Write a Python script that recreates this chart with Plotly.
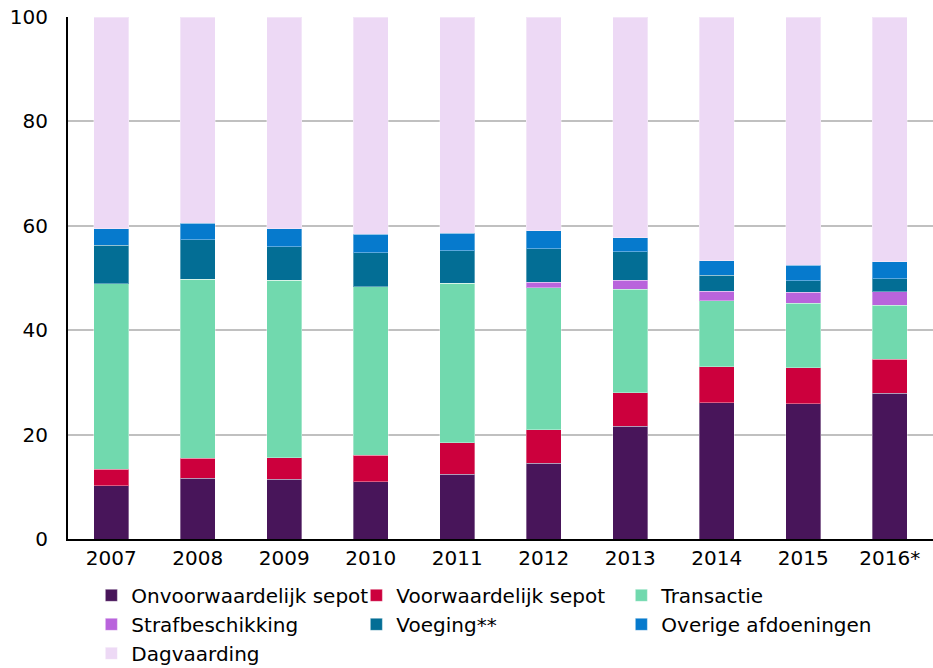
import plotly.graph_objects as go

years = ["2007", "2008", "2009", "2010", "2011", "2012", "2013", "2014", "2015", "2016*"]

onvoorwaardelijk_sepot = [10.2, 11.6, 11.4, 11.0, 12.4, 14.5, 21.6, 26.1, 25.9, 27.9]
voorwaardelijk_sepot   = [3.2, 3.9, 4.2, 5.0, 6.0, 6.4, 6.4, 6.9, 6.9, 6.5]
transactie             = [35.5, 34.3, 34.0, 32.3, 30.6, 27.2, 19.8, 12.6, 12.4, 10.4]
strafbeschikking       = [0.0, 0.0, 0.0, 0.0, 0.0, 1.1, 1.8, 1.9, 2.1, 2.6]
voeging                = [7.4, 7.5, 6.4, 6.5, 6.2, 6.4, 5.4, 3.0, 2.2, 2.5]
overige_afdoeningen    = [3.1, 3.2, 3.4, 3.6, 3.4, 3.5, 2.7, 2.8, 2.9, 3.2]
dagvaarding            = [40.6, 39.5, 40.6, 41.6, 41.4, 40.9, 42.3, 46.7, 47.6, 46.9]

series_names = ["Onvoorwaardelijk sepot", "Voorwaardelijk sepot", "Transactie",
                "Strafbeschikking", "Voeging**", "Overige afdoeningen", "Dagvaarding"]
series_values = [onvoorwaardelijk_sepot, voorwaardelijk_sepot, transactie,
                 strafbeschikking, voeging, overige_afdoeningen, dagvaarding]
colors = ["#48155a", "#cc003d", "#71d9ae", "#b964dc", "#036e95", "#067acd", "#edd9f5"]

fig = go.Figure()
for name, vals, col in zip(series_names, series_values, colors):
    fig.add_trace(go.Bar(
        x=years, y=vals, name=name,
        marker=dict(color=col, line=dict(color="rgba(255,255,255,0.35)", width=1)),
    ))

font_family = "DejaVu Sans, Verdana, sans-serif"
fig.update_layout(
    barmode="stack",
    bargap=0.6,
    width=933, height=668,
    margin=dict(l=68, r=0, t=17, b=129),
    paper_bgcolor="white",
    plot_bgcolor="white",
    font=dict(family=font_family, size=20, color="#000000"),
    showlegend=True,
    legend=dict(
        orientation="h",
        xref="paper", yref="container",
        x=0.027, y=0.138,
        xanchor="left", yanchor="top",
        entrywidth=220, entrywidthmode="pixels",
        font=dict(family=font_family, size=20, color="#000000"),
        traceorder="normal",
    ),
)
fig.update_xaxes(
    showline=True, linecolor="#000000", linewidth=2,
    ticks="", showgrid=False, automargin=False,
    tickfont=dict(size=20),
)
fig.update_yaxes(
    range=[0, 100], tickvals=[0, 20, 40, 60, 80, 100],
    showline=True, linecolor="#000000", linewidth=2,
    showgrid=True, gridcolor="#c0c0c0", gridwidth=1.5,
    zeroline=False, ticks="", ticklabelstandoff=14, automargin=False,
    tickfont=dict(size=20),
)

fig.write_html("out.html",
               config={"displayModeBar": False},
               post_script="document.body.style.margin='0';document.body.style.overflow='hidden';")
